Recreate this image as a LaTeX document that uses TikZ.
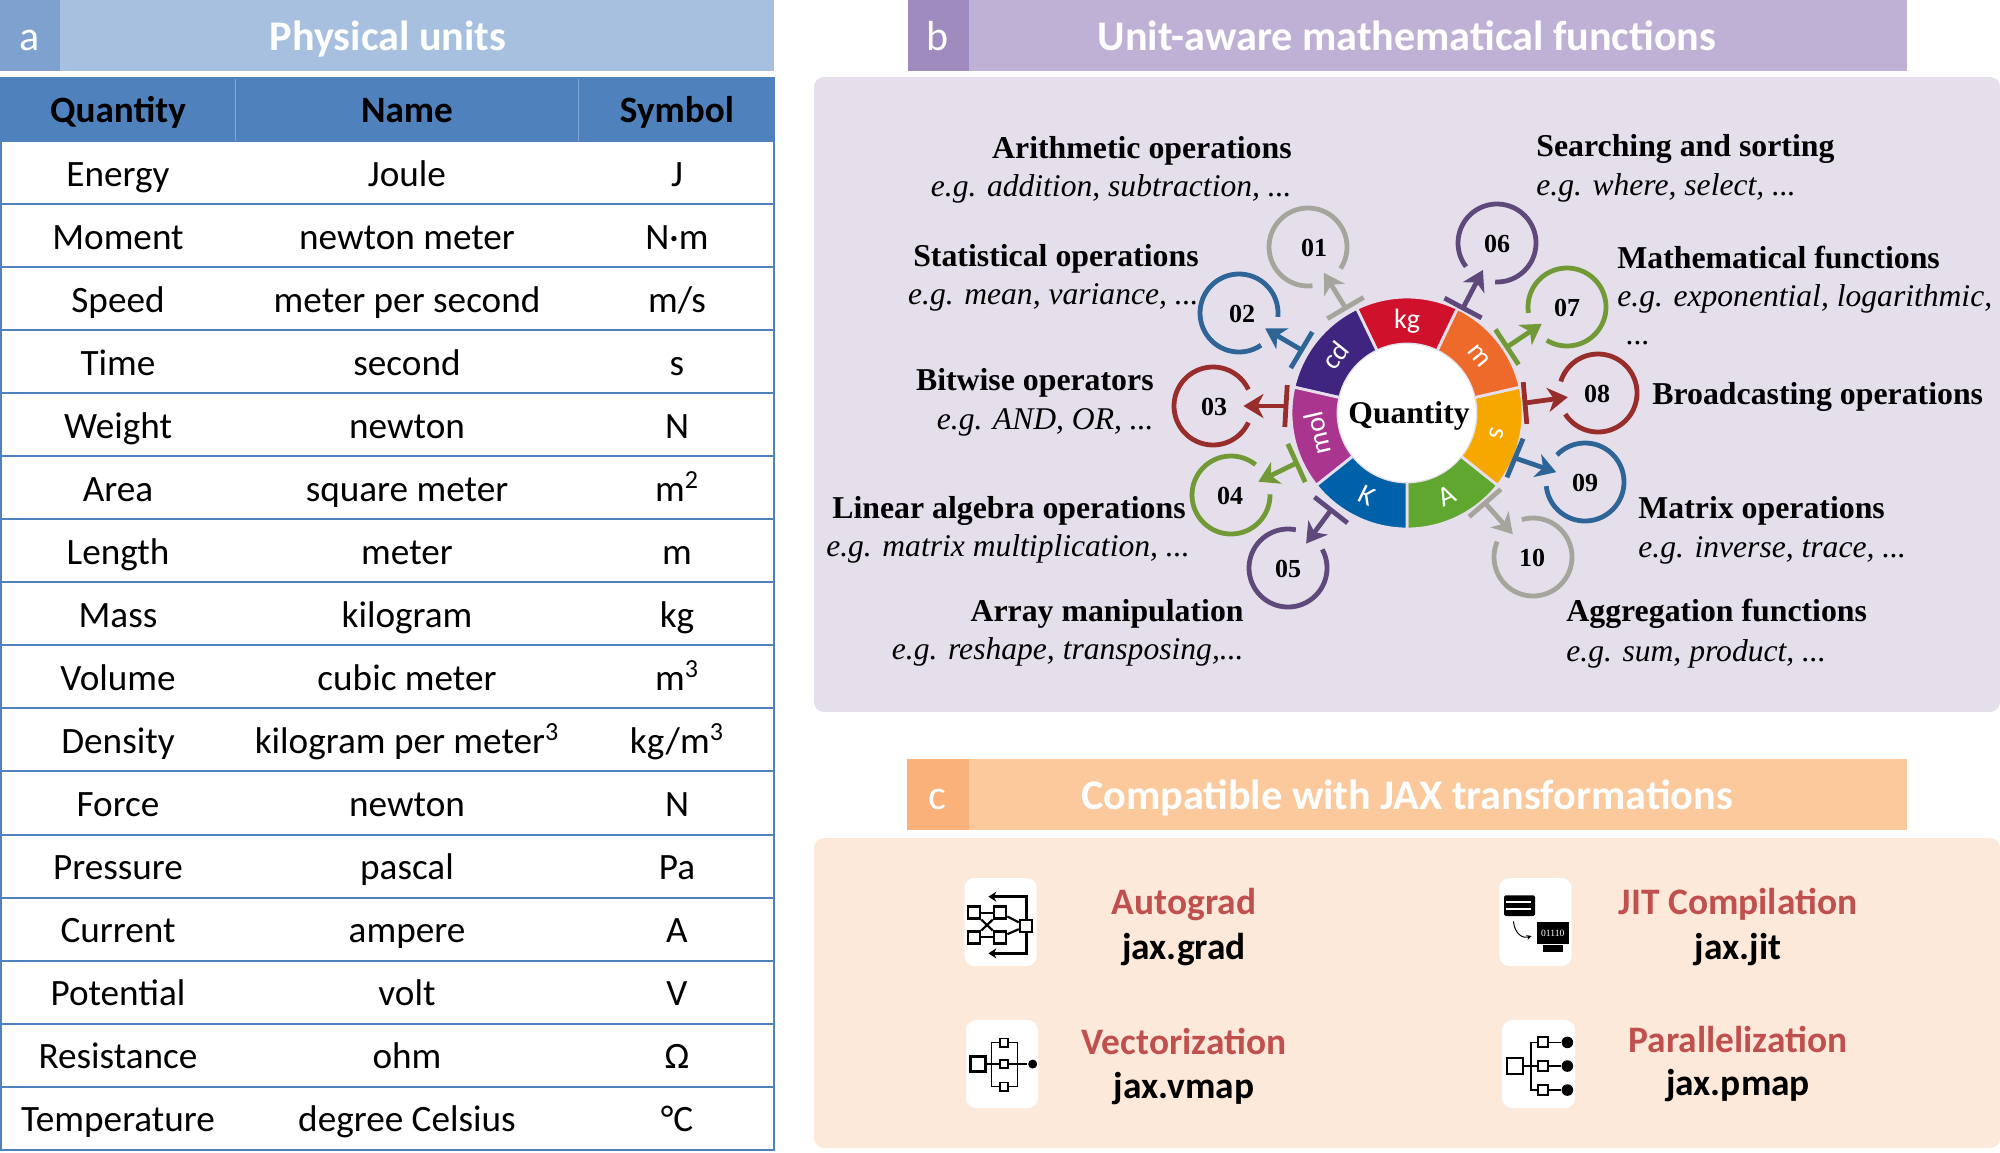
\documentclass[tikz,border=0pt]{standalone}
\usepackage{fontspec}
\setmainfont{Carlito}
\newfontfamily\opfont{Liberation Serif}
\usetikzlibrary{calc}
\usetikzlibrary{arrows.meta}
\definecolor{head-blue}{HTML}{4F81BD}
\definecolor{title-blue}{HTML}{A7C0DF}
\definecolor{tag-blue}{HTML}{7FA1CF}
\definecolor{title-purple}{HTML}{BFB0D5}
\definecolor{tag-purple}{HTML}{A08BBE}
\definecolor{panel-purple}{HTML}{E5DFEC}
\definecolor{title-orange}{HTML}{FBC99C}
\definecolor{tag-orange}{HTML}{FAB27A}
\definecolor{panel-orange}{HTML}{FDE9D9}
\definecolor{label-red}{HTML}{C0504D}
\definecolor{spoke-gray}{HTML}{A6A59B}
\definecolor{spoke-blue}{HTML}{2F6497}
\definecolor{spoke-red}{HTML}{972E2B}
\definecolor{spoke-green}{HTML}{719A37}
\definecolor{spoke-purple}{HTML}{5F497A}
\definecolor{unit-a}{HTML}{5FA72F}
\definecolor{unit-s}{HTML}{F7A800}
\definecolor{unit-m}{HTML}{EE6A2B}
\definecolor{unit-kg}{HTML}{D0112B}
\definecolor{unit-cd}{HTML}{3F2580}
\definecolor{unit-mol}{HTML}{A9358F}
\definecolor{unit-k}{HTML}{0060A8}
\tikzstyle{titletext}=[text=white,font=\fontsize{21.1}{24}\selectfont\bfseries,inner sep=0pt,text height=15pt,text depth=4pt]
\tikzstyle{tagtext}=[text=white,font=\fontsize{21}{24}\selectfont,inner sep=0pt,text height=15pt,text depth=4pt]
\tikzstyle{headcell}=[font=\fontsize{18.6}{22}\selectfont\bfseries,inner sep=0pt,text height=15pt,text depth=4pt]
\tikzstyle{tablecell}=[font=\fontsize{18.6}{22}\selectfont,inner sep=0pt,text height=15pt,text depth=4pt]
\tikzstyle{tableline}=[head-blue,line width=1pt]
\tikzstyle{opname}=[font=\opfont\fontsize{15.9}{18}\selectfont\bfseries,inner sep=0pt,text height=12.6pt,text depth=3pt]
\tikzstyle{opeg}=[font=\opfont\fontsize{15.8}{18}\selectfont\itshape,inner sep=0pt,text height=12.6pt,text depth=3pt]
\tikzstyle{ringlabel}=[text=white,font=\fontsize{14}{16}\selectfont,inner sep=0pt]
\tikzstyle{numcircle}=[circle,minimum size=30pt,inner sep=0pt]
\tikzstyle{numtext}=[inner sep=0pt,font=\opfont\fontsize{13}{15}\selectfont\bfseries]
\tikzstyle{spokeline}=[line width=2.4pt]
\tikzstyle{transname}=[text=label-red,font=\fontsize{18.7}{22}\selectfont\bfseries,inner sep=0pt,text height=15pt,text depth=4pt]
\tikzstyle{transcall}=[font=\fontsize{18.7}{22}\selectfont\bfseries,inner sep=0pt,text height=15pt,text depth=4pt]
\tikzstyle{iconback}=[fill=white,rounded corners=5pt]
\tikzstyle{iconbox}=[draw,fill=white,rectangle,inner sep=0pt]
% Syntax: {colour} {initial angle} {final angle} {text rotation} {text}
\newcommand{\ringsegment}[5]{
	\draw[draw=panel-purple,line width=1.4pt,fill=#1] (#2:116) arc (#2:#3:116) -- (#3:69) arc (#3:#2:69) -- cycle;
	\pgfmathsetmacro{\midangle}{(#2+#3)/2}
	\node[ringlabel,rotate=#4] (unit-#5) at (\midangle:92) {#5};
}
\begin{document}
\begin{tikzpicture}[x=0.5pt,y=-0.5pt]
	\useasboundingbox (0,0) rectangle (2000,1152);
	% panel a: title and table
	\fill[title-blue] (0,0) rectangle (774,71);
	\fill[tag-blue] (0,0) rectangle (60,71);
	\node[tagtext] (taga) at (30,39) {a};
	\node[titletext] (titlea) at (388,39) {Physical units};
	\fill[head-blue] (0,77) rectangle (775,142);
	\draw[white!30!head-blue,line width=0.3pt] (235,79) -- (235,141);
	\draw[white!30!head-blue,line width=0.3pt] (578,79) -- (578,141);
	\node[headcell] (headq) at (118,111) {Quantity};
	\node[headcell] (headn) at (407,111) {Name};
	\node[headcell] (heads) at (677,111) {Symbol};
	\foreach \qty/\nam/\sym [count=\r from 0] in {
		Energy/Joule/J,
		Moment/newton meter/N·m,
		Speed/meter per second/m{/}s,
		Time/second/s,
		Weight/newton/N,
		Area/square meter/m\textsuperscript{2},
		Length/meter/m,
		Mass/kilogram/kg,
		Volume/cubic meter/m\textsuperscript{3},
		Density/kilogram per meter\textsuperscript{3}/kg{/}m\textsuperscript{3},
		Force/newton/N,
		Pressure/pascal/Pa,
		Current/ampere/A,
		Potential/volt/V,
		Resistance/ohm/Ω,
		Temperature/degree Celsius/°C} {
		\pgfmathsetmacro{\rowy}{175+63.05*\r}
		\pgfmathsetmacro{\liney}{204+63.05*\r}
		\node[tablecell] (q\r) at (118,\rowy) {\qty};
		\node[tablecell] (n\r) at (407,\rowy) {\nam};
		\node[tablecell] (s\r) at (677,\rowy) {\sym};
		\draw[tableline] (0,\liney) -- (775,\liney);
	}
	\draw[tableline] (1,142) -- (1,1150);
	\draw[tableline] (774,142) -- (774,1150);
	% panel b: title and background
	\fill[panel-purple,rounded corners=5pt] (814,77) rectangle (2000,712);
	\fill[title-purple] (908,0) rectangle (1907,71);
	\fill[tag-purple] (908,0) rectangle (969,71);
	\node[tagtext] (tagb) at (938,39) {b};
	\node[titletext] (titleb) at (1407,39) {Unit-aware mathematical functions};
	% the unit ring
	\begin{scope}[shift={(1407,413)}]
		\ringsegment{unit-a}{90}{38.6}{26}{A}
		\ringsegment{unit-s}{38.6}{-12.9}{-103}{s}
		\ringsegment{unit-m}{-12.9}{-64.3}{-51}{m}
		\ringsegment{unit-kg}{-64.3}{-115.7}{0}{kg}
		\ringsegment{unit-cd}{-115.7}{-167.1}{51}{cd}
		\ringsegment{unit-mol}{-167.1}{-218.6}{103}{mol}
		\ringsegment{unit-k}{-218.6}{-270}{-26}{K}
		\fill[white] (0,0) circle (69);
		\node[inner sep=0pt,font=\opfont\fontsize{15.8}{18}\selectfont\bfseries] (quantity) at (2,3) {Quantity};
	\end{scope}
	% numbered circles, each with a bar on the ring and an arrow into the gap
	\foreach \id/\bx/\by/\cx/\cy/\off/\col in {
		01/1345.5/308/1308/247/6/spoke-gray,
		02/1301.5/350/1239/313/3/spoke-blue,
		03/1286/406/1213/406/1/spoke-red,
		04/1296.5/463/1231/495/-1/spoke-green,
		05/1331/510/1288/568/0/spoke-purple,
		06/1463/308/1497/243/0/spoke-purple,
		07/1507/347/1567/307/0/spoke-green,
		08/1525/403/1598/393/-1/spoke-red,
		09/1515/458/1585/482/0/spoke-blue,
		10/1485/503/1533/557/-1/spoke-gray} {
		\pgfmathsetmacro{\barangle}{atan2(\by-413,\bx-1407)}
		\pgfmathsetmacro{\gapangle}{atan2(\by-\cy,\bx-\cx)}
		\node[numcircle] (c\id) at (\cx,\cy) {};
		\node[numtext] (t\id) at (\cx+\off,\cy+1) {\id};
		\coordinate (b\id) at (\bx,\by);
		\draw[spokeline,\col] (c\id.center) ++(\gapangle+25:39) arc (\gapangle+25:\gapangle+335:39);
		\draw[spokeline,\col] (b\id) ++(\barangle+90:21) -- ++(\barangle-90:42);
		\draw[spokeline,\col,-{Stealth[length=10pt,width=12pt,inset=3pt]}] (b\id) -- (c\id);
	}
	% labels on the left of the ring
	\node[opname,anchor=east] (arith) at (1292,149) {Arithmetic operations};
	\node[opeg,anchor=east] (arith-eg) at (1292,187) {e.g. addition, subtraction, ...};
	\node[opname,anchor=east] (stat) at (1199,257) {Statistical operations};
	\node[opeg,anchor=east] (stat-eg) at (1199,295) {e.g. mean, variance, ...};
	\node[opname,anchor=east] (bit) at (1154,381) {Bitwise operators};
	\node[opeg,anchor=east] (bit-eg) at (1154,420) {e.g. AND, OR, ...};
	\node[opname,anchor=east] (linalg) at (1186,509) {Linear algebra operations};
	\node[opeg,anchor=east] (linalg-eg) at (1190,547) {e.g. matrix multiplication, ...};
	\node[opname,anchor=east] (array) at (1244,612) {Array manipulation};
	\node[opeg,anchor=east] (array-eg) at (1244,650) {e.g. reshape, transposing,...};
	% labels on the right of the ring
	\node[opname,anchor=west] (search) at (1536,147) {Searching and sorting};
	\node[opeg,anchor=west] (search-eg) at (1536,186) {e.g. where, select, ...};
	\node[opname,anchor=west] (math) at (1617,259) {Mathematical functions};
	\node[opeg,anchor=west] (math-eg) at (1617,297) {e.g. exponential, logarithmic,};
	\node[opeg,anchor=west] (math-dots) at (1626,335) {...};
	\node[opname,anchor=west] (broad) at (1652,395) {Broadcasting operations};
	\node[opname,anchor=west] (matrix) at (1638,509) {Matrix operations};
	\node[opeg,anchor=west] (matrix-eg) at (1638,548) {e.g. inverse, trace, ...};
	\node[opname,anchor=west] (agg) at (1566,612) {Aggregation functions};
	\node[opeg,anchor=west] (agg-eg) at (1566,652) {e.g. sum, product, ...};
	% panel c: title and background
	\fill[panel-orange,rounded corners=5pt] (814,838) rectangle (2000,1148);
	\fill[title-orange] (907,759) rectangle (1907,830);
	\fill[tag-orange] (907,759) rectangle (969,830);
	\node[tagtext] (tagc) at (937,798) {c};
	\node[titletext] (titlec) at (1407,798) {Compatible with JAX transformations};
	\node[transname] (autograd) at (1184,903) {Autograd};
	\node[transcall] (jaxgrad) at (1184,948) {jax.grad};
	\node[transname] (jit) at (1738,903) {JIT Compilation};
	\node[transcall] (jaxjit) at (1738,948) {jax.jit};
	\node[transname] (vector) at (1184,1043) {Vectorization};
	\node[transcall] (jaxvmap) at (1184,1087) {jax.vmap};
	\node[transname] (parallel) at (1738,1041) {Parallelization};
	\node[transcall] (jaxpmap) at (1738,1084) {jax.pmap};
	% icons, written in 1/3 pixel steps from the corner of each icon block
	\begin{scope}[shift={(920,850)},x=0.1667pt,y=-0.1667pt,line width=1.1pt]
		\fill[iconback] (133,84) rectangle (350,348);
		\node[iconbox,minimum size=6pt,line width=1.3pt] (ga) at (162,188) {};
		\node[iconbox,minimum size=6pt,line width=1.3pt] (gb) at (162,262) {};
		\node[iconbox,minimum size=6pt,line width=1.3pt] (gc) at (240,188) {};
		\node[iconbox,minimum size=6pt,line width=1.3pt] (gd) at (240,262) {};
		\node[iconbox,minimum size=6pt,line width=1.3pt] (ge) at (318,228) {};
		\coordinate (gf) at (205,140);
		\coordinate (gg) at (205,310);
		\draw (ga) -- (gc);
		\draw (gb) -- (gd);
		\draw (ga) -- (gd);
		\draw (gb) -- (gc);
		\draw (gc) -- (ge);
		\draw (gd) -- (ge);
		\draw[line width=1.5pt,-{Stealth[length=4pt,width=5pt]}] (ge) |- (gf);
		\draw[line width=1.5pt,-{Stealth[length=4pt,width=5pt]}] (ge) |- (gg);
		\fill[iconback] (138,510) rectangle (354,774);
		\node[iconbox,minimum size=7.5pt,line width=1.3pt] (va) at (174,642) {};
		\node[iconbox,minimum size=4.2pt,line width=0.9pt] (vb) at (252,578) {};
		\node[iconbox,minimum size=4.2pt,line width=0.9pt] (vc) at (252,642) {};
		\node[iconbox,minimum size=4.2pt,line width=0.9pt] (vd) at (252,710) {};
		\node[circle,fill=black,minimum size=4.5pt,inner sep=0pt] (ve) at (338,642) {};
		\draw[line width=0.6pt] (va) -- (vc);
		\draw[line width=0.6pt] (vc) -- (ve);
		\draw[line width=0.6pt] (vb) -- (215,578) -- (215,710) -- (vd);
		\draw[line width=0.6pt] (vb) -- (293,578) -- (293,710) -- (vd);
	\end{scope}
	\begin{scope}[shift={(1460,850)},x=0.1667pt,y=-0.1667pt]
		\fill[iconback] (118,84) rectangle (335,348);
		\fill[black,rounded corners=0.8pt] (132,136) rectangle (225,198);
		\draw[white,line width=0.9pt] (138,157) -- (212,157);
		\draw[white,line width=0.9pt] (138,178) -- (212,178);
		\node[fill=black,minimum width=16pt,minimum height=11pt,inner sep=0pt,text=white,font=\opfont\fontsize{4.8}{5}\selectfont] (monitor) at (278,250) {01110};
		\fill[black] (248,284) rectangle (308,305);
		\coordinate (jita) at (160,214);
		\coordinate (jitb) at (215,258);
		\draw[line width=0.5pt,-{Stealth[length=2.5pt,width=2.5pt]}] (jita) .. controls (165,255) and (190,266) .. (jitb);
		\fill[iconback] (126,510) rectangle (345,774);
		\node[iconbox,minimum size=8pt,line width=1.4pt] (pa) at (165,648) {};
		\node[iconbox,minimum size=5pt,line width=1pt] (pb) at (250,577) {};
		\node[iconbox,minimum size=5pt,line width=1pt] (pc) at (250,648) {};
		\node[iconbox,minimum size=5pt,line width=1pt] (pd) at (250,720) {};
		\node[circle,fill=black,minimum size=5.8pt,inner sep=0pt] (pe) at (322,577) {};
		\node[circle,fill=black,minimum size=5.8pt,inner sep=0pt] (pf) at (322,648) {};
		\node[circle,fill=black,minimum size=5.8pt,inner sep=0pt] (pg) at (322,720) {};
		\draw[line width=0.8pt] (pa) -- (pc);
		\draw[line width=0.8pt] (pb) -- (212,577) -- (212,720) -- (pd);
		\draw[line width=0.8pt] (pb) -- (pe);
		\draw[line width=0.8pt] (pc) -- (pf);
		\draw[line width=0.8pt] (pd) -- (pg);
	\end{scope}
\end{tikzpicture}
\end{document}
